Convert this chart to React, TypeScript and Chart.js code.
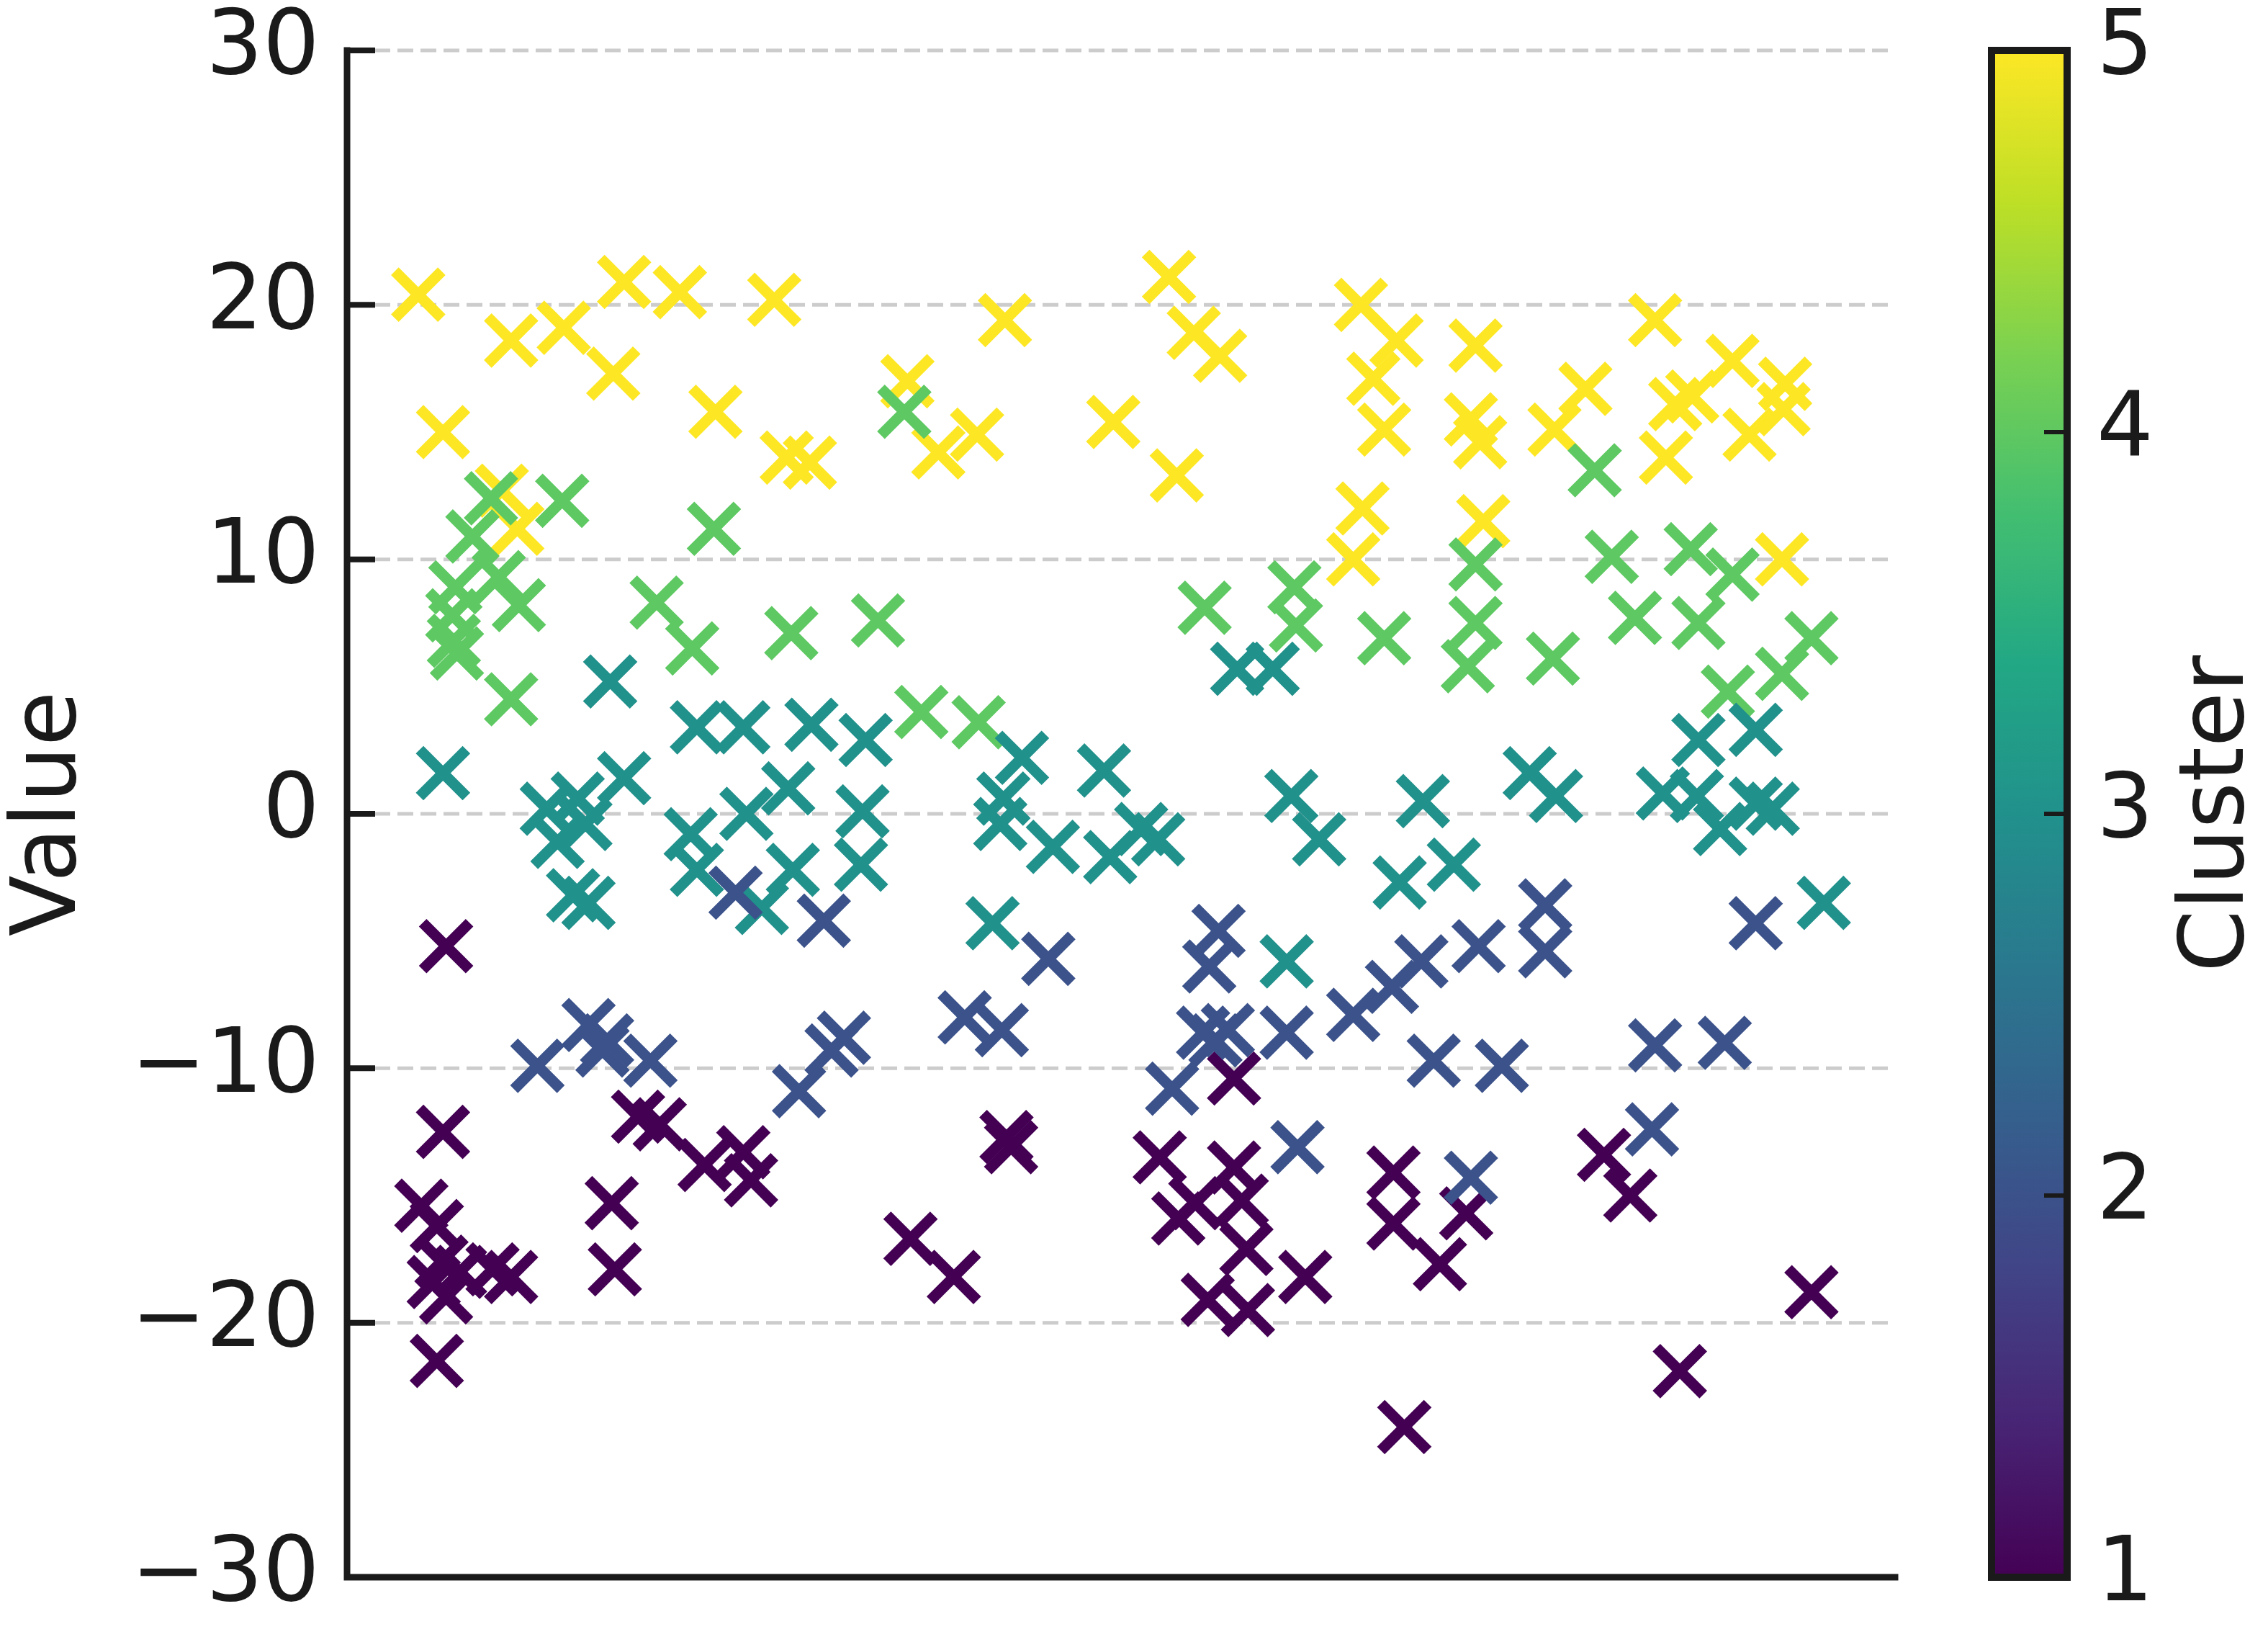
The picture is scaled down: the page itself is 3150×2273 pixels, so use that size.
import React, { useEffect, useRef } from 'react';
import { Chart, registerables } from 'chart.js';

Chart.register(...registerables);

const W = 3150;
const H = 2273;

// ---- data (x is an arbitrary 0–100 position, y is Value) ----
const cluster1X = [6.4, 6.2, 4.8, 5.8, 6.1, 5.6, 6.4, 7.3, 9.4, 10.6, 5.8, 17.1, 17.3, 18.8, 20.2, 23.1, 25.6, 26.1, 42.6, 42.9, 36.4, 39.2, 52.5, 53.7, 54.8, 57.3, 57.8, 58.1, 55.6, 58.2, 61.9, 57.3, 67.6, 67.6, 70.6, 72.3, 68.3, 81.2, 82.9, 94.6, 86.1];
const cluster1Y = [-5.2, -12.5, -15.4, -16.2, -17.6, -18.4, -19.0, -18.0, -17.9, -18.2, -21.5, -15.3, -17.9, -11.9, -12.2, -13.8, -13.3, -14.4, -12.7, -13.1, -16.7, -18.2, -13.5, -15.9, -15.3, -13.9, -15.2, -17.1, -19.1, -19.5, -18.2, -10.4, -14.1, -16.1, -17.7, -15.7, -24.1, -13.4, -15.0, -18.8, -21.9];

const cluster2X = [25.1, 30.8, 12.3, 15.6, 16.8, 16.5, 19.6, 45.3, 39.9, 42.3, 32.1, 31.3, 29.2, 56.3, 55.7, 55.3, 56.9, 56.1, 60.7, 65.0, 67.5, 69.4, 73.1, 70.2, 74.6, 53.3, 61.4, 72.6, 77.4, 77.4, 91.0, 84.5, 89.0, 84.3];
const cluster2Y = [-3.1, -4.2, -9.9, -8.3, -8.9, -9.3, -9.7, -5.7, -8.0, -8.5, -8.8, -9.3, -10.9, -4.6, -6.0, -8.6, -8.5, -8.9, -8.6, -7.9, -6.8, -5.8, -5.2, -9.7, -9.9, -10.8, -13.1, -14.3, -3.6, -5.4, -4.3, -9.1, -9.0, -12.4];

const cluster3X = [17.0, 6.2, 22.6, 25.6, 17.9, 25.8, 12.9, 14.9, 15.4, 13.6, 14.6, 15.6, 22.2, 22.6, 26.8, 30.0, 33.5, 43.6, 48.9, 28.5, 33.3, 42.4, 42.2, 28.8, 33.2, 45.6, 49.3, 41.7, 51.3, 52.4, 62.8, 61.0, 69.5, 68.0, 71.5, 60.7, 57.5, 59.8, 87.3, 91.0, 76.4, 78.1, 85.0, 87.2, 88.7, 91.0, 92.1, 95.4];
const cluster3Y = [5.2, 1.6, 3.4, 3.4, 1.4, 0.0, 0.2, 0.6, -0.4, -1.1, -3.2, -3.5, -0.8, -2.2, -3.7, 3.5, 2.9, 2.2, 1.7, 1.0, 0.1, 0.6, -0.4, -2.2, -2.0, -1.3, -1.7, -4.3, -0.6, -1.0, -1.0, 0.7, 0.5, -2.7, -2.0, -5.8, 5.7, 5.7, 2.9, 3.3, 1.6, 0.7, 0.8, 0.7, -0.6, 0.4, 0.2, -3.5];

const cluster4X = [9.3, 13.9, 23.7, 8.1, 7.0, 9.8, 11.1, 6.8, 6.9, 7.1, 10.6, 20.0, 22.3, 36.0, 28.7, 34.3, 37.1, 40.8, 55.4, 61.2, 61.3, 67.0, 72.9, 72.9, 72.4, 80.6, 81.7, 86.8, 89.5, 83.2, 87.3, 77.9, 89.2, 92.7, 94.6];
const cluster4Y = [12.4, 12.3, 11.2, 10.9, 8.9, 9.3, 8.2, 7.8, 6.8, 6.3, 4.5, 8.3, 6.5, 15.8, 7.1, 7.6, 4.0, 3.6, 8.1, 8.9, 7.4, 6.9, 9.8, 7.5, 5.8, 13.5, 10.1, 10.4, 9.4, 7.7, 7.5, 6.1, 4.8, 5.5, 6.9];

const cluster5X = [4.6, 6.2, 10.6, 14.0, 17.2, 17.9, 21.5, 23.8, 10.0, 11.0, 27.6, 28.4, 29.9, 36.2, 38.2, 40.7, 42.5, 49.5, 53.1, 53.6, 54.7, 56.4, 65.5, 67.8, 66.3, 67.0, 65.6, 65.0, 72.9, 72.6, 73.2, 73.4, 78.0, 80.0, 84.5, 85.2, 85.8, 86.9, 89.5, 90.6, 92.9, 92.8, 92.7];
const cluster5Y = [20.4, 15.0, 18.6, 19.1, 17.3, 20.9, 20.5, 15.8, 12.7, 11.2, 20.2, 14.0, 13.8, 17.0, 14.2, 14.9, 19.4, 15.4, 21.1, 13.3, 18.9, 18.0, 20.0, 18.6, 17.1, 15.1, 12.0, 10.0, 18.4, 15.5, 14.6, 11.5, 15.1, 16.7, 19.4, 14.0, 16.1, 16.4, 17.8, 14.9, 16.9, 15.9, 10.0];

const clusterIds = [1, 2, 3, 4, 5];
const clusterColors = ['#440154', '#3b528b', '#21918c', '#5ec962', '#fde725'];

const yTickValues = [-30, -20, -10, 0, 10, 20, 30];
const yTickLabels = ['\u221230', '\u221220', '\u221210', '0', '10', '20', '30'];
const cbTickValues = [1, 2, 3, 4, 5];
const cbTickLabels = ['1', '2', '3', '4', '5'];

const viridisStops = ['#440154', '#482475', '#414487', '#355f8d', '#2a788e', '#21918c', '#22a884', '#44bf70', '#7ad151', '#bddf26', '#fde725'];

const FONT = '"DejaVu Sans", "Liberation Sans", sans-serif';
const INK = '#1a1a1a';

const decorPlugin = {
  id: 'decor',
  beforeDatasetsDraw(chart: any) {
    const ctx = chart.ctx;
    const { left, right } = chart.chartArea;
    const ys = chart.scales.y;
    ctx.save();
    ctx.strokeStyle = '#cccccc';
    ctx.lineWidth = 5;
    ctx.setLineDash([22, 10]);
    yTickValues.forEach((v) => {
      if (v === -30) return;
      const py = ys.getPixelForValue(v);
      ctx.beginPath();
      ctx.moveTo(left + 38, py);
      ctx.lineTo(right, py);
      ctx.stroke();
    });
    ctx.restore();
  },
  afterDatasetsDraw(chart: any) {
    const ctx = chart.ctx;
    const { left, right, top, bottom } = chart.chartArea;
    const ys = chart.scales.y;
    const cb = chart.scales.cb;
    ctx.save();
    // spines
    ctx.strokeStyle = INK;
    ctx.lineWidth = 9;
    ctx.lineCap = 'square';
    ctx.beginPath();
    ctx.moveTo(left, top);
    ctx.lineTo(left, bottom);
    ctx.lineTo(right, bottom);
    ctx.stroke();
    // y ticks (inward)
    ctx.lineCap = 'butt';
    ctx.lineWidth = 8;
    yTickValues.forEach((v) => {
      const py = ys.getPixelForValue(v);
      ctx.beginPath();
      ctx.moveTo(left, py);
      ctx.lineTo(left + 39, py);
      ctx.stroke();
    });
    // y tick labels
    ctx.fillStyle = INK;
    ctx.font = `124px ${FONT}`;
    ctx.textAlign = 'right';
    ctx.textBaseline = 'middle';
    yTickValues.forEach((v, i) => {
      ctx.fillText(yTickLabels[i], left - 38, ys.getPixelForValue(v));
    });
    // y axis title
    ctx.save();
    ctx.translate(72, (top + bottom) / 2);
    ctx.rotate(-Math.PI / 2);
    ctx.textAlign = 'center';
    ctx.textBaseline = 'middle';
    ctx.font = `124px ${FONT}`;
    ctx.fillText('Value', 0, 0);
    ctx.restore();

    // colorbar
    const cbL = 2766;
    const cbR = 2871;
    const cbTop = cb.getPixelForValue(5);
    const cbBot = cb.getPixelForValue(1);
    const grad = ctx.createLinearGradient(0, cbBot, 0, cbTop);
    viridisStops.forEach((c, i) => grad.addColorStop(i / (viridisStops.length - 1), c));
    ctx.fillStyle = grad;
    ctx.fillRect(cbL, cbTop, cbR - cbL, cbBot - cbTop);
    ctx.strokeStyle = INK;
    ctx.lineWidth = 6;
    cbTickValues.forEach((v) => {
      const py = cb.getPixelForValue(v);
      ctx.beginPath();
      ctx.moveTo(cbR, py);
      ctx.lineTo(cbR - 32, py);
      ctx.stroke();
    });
    ctx.lineWidth = 10;
    ctx.strokeRect(cbL, cbTop, cbR - cbL, cbBot - cbTop);
    ctx.fillStyle = INK;
    ctx.font = `124px ${FONT}`;
    ctx.textAlign = 'left';
    ctx.textBaseline = 'middle';
    cbTickValues.forEach((v, i) => {
      ctx.fillText(cbTickLabels[i], 2912, cb.getPixelForValue(v));
    });
    ctx.save();
    ctx.translate(3083, (top + bottom) / 2);
    ctx.rotate(-Math.PI / 2);
    ctx.textAlign = 'center';
    ctx.textBaseline = 'middle';
    ctx.font = `124px ${FONT}`;
    ctx.fillText('Cluster', 0, 0);
    ctx.restore();
    ctx.restore();
  },
};

export default function App() {
  const ref = useRef<HTMLCanvasElement | null>(null);
  useEffect(() => {
    if (!ref.current) return;
    const xs = [cluster1X, cluster2X, cluster3X, cluster4X, cluster5X];
    const yv = [cluster1Y, cluster2Y, cluster3Y, cluster4Y, cluster5Y];
    const order = [1, 2, 3, 0, 4];
    const datasets = order.map((k) => ({
      label: `Cluster ${clusterIds[k]}`,
      data: xs[k].map((x, i) => ({ x, y: yv[k][i] })),
      pointStyle: 'crossRot' as const,
      pointRadius: 46,
      pointHoverRadius: 46,
      pointBorderWidth: 15,
      pointBorderColor: clusterColors[k],
      pointBackgroundColor: clusterColors[k],
      borderColor: clusterColors[k],
      backgroundColor: clusterColors[k],
      showLine: false,
    }));
    const chart = new Chart(ref.current, {
      type: 'scatter',
      data: { datasets },
      options: {
        responsive: false,
        animation: false,
        devicePixelRatio: 1,
        layout: { padding: { left: 482, right: W - 2632, top: 70, bottom: H - 2190 } },
        plugins: { legend: { display: false }, tooltip: { enabled: false } },
        events: [],
        scales: {
          x: { type: 'linear', min: 0, max: 100, display: false },
          y: { type: 'linear', min: -30, max: 30, display: false },
          cb: { type: 'linear', axis: 'y', min: 1, max: 5, display: false },
        },
      },
      plugins: [decorPlugin],
    });
    return () => chart.destroy();
  }, []);
  return (
    <div style={{ position: 'absolute', left: 0, top: 0, width: W, height: H, background: '#ffffff' }}>
      <canvas ref={ref} width={W} height={H} style={{ width: W, height: H, display: 'block' }} />
    </div>
  );
}
